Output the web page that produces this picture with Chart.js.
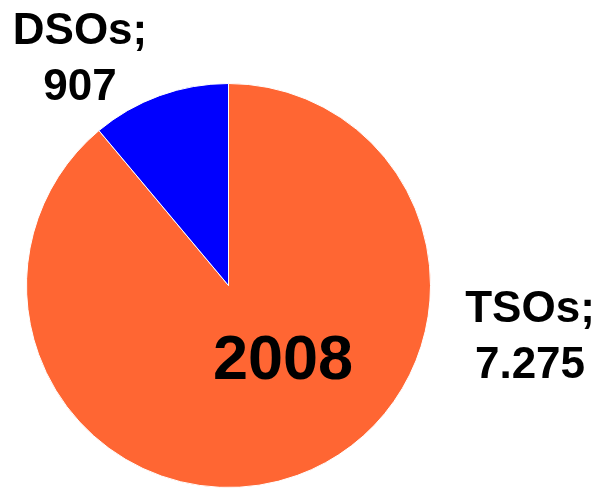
<!DOCTYPE html>
<html>
<head>
    <title>TSOs vs DSOs 2008</title>
    <script src="https://cdn.jsdelivr.net/npm/chart.js"></script>
    <style>
        body { margin: 0; background: #fff; }
    </style>
</head>
<body>
    <canvas id="pieChart" width="602" height="489"></canvas>

    <script>
        const categories = ['TSOs', 'DSOs'];
        const values = [7275, 907];
        const valueLabels = ['7.275', '907'];
        const sliceColors = ['#FF6633', '#0000FF'];
        const yearLabel = '2008';

        // text labels drawn on top of the pie
        const labelPlugin = {
            id: 'pieLabels',
            afterDraw(chart) {
                const ctx = chart.ctx;
                ctx.save();
                ctx.fillStyle = '#000';
                ctx.textAlign = 'center';
                ctx.textBaseline = 'alphabetic';
                ctx.font = 'bold 44px "Liberation Sans", Arial, sans-serif';
                ctx.fillText(categories[1] + ';', 80, 44);
                ctx.fillText(valueLabels[1], 80, 100);
                ctx.fillText(categories[0] + ';', 530, 322);
                ctx.fillText(valueLabels[0], 530, 378);
                ctx.font = 'bold 63px "Liberation Sans", Arial, sans-serif';
                ctx.fillText(yearLabel, 283, 379);
                ctx.restore();
            }
        };

        const ctx = document.getElementById('pieChart').getContext('2d');
        new Chart(ctx, {
            type: 'pie',
            data: {
                labels: categories,
                datasets: [{
                    data: values,
                    backgroundColor: sliceColors,
                    borderColor: '#fff',
                    borderWidth: 1
                }]
            },
            options: {
                responsive: false,
                animation: false,
                layout: {
                    padding: { left: 26, right: 171, top: 83, bottom: 1 }
                },
                plugins: {
                    legend: { display: false },
                    tooltip: { enabled: false }
                }
            },
            plugins: [labelPlugin]
        });
    </script>
</body>
</html>
